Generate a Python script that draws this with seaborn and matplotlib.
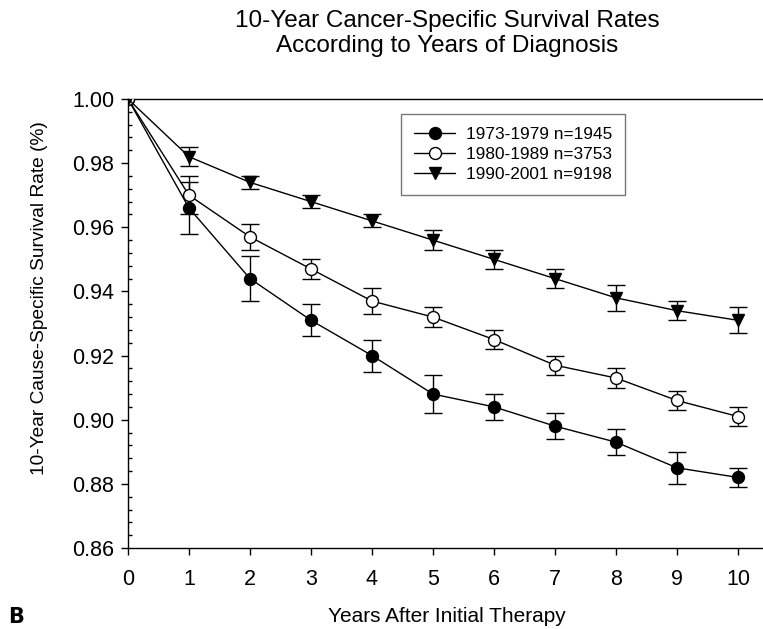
import matplotlib
matplotlib.use("Agg")
import matplotlib.pyplot as plt
import seaborn as sns
import numpy as np
import pandas as pd
from matplotlib.ticker import AutoMinorLocator, FormatStrFormatter

years = [0, 1, 2, 3, 4, 5, 6, 7, 8, 9, 10]
labels = ["1973-1979 n=1945", "1980-1989 n=3753", "1990-2001 n=9198"]
rate_1973 = [1.000, 0.966, 0.944, 0.931, 0.920, 0.908, 0.904, 0.898, 0.893, 0.885, 0.882]
err_1973 = [0.0, 0.008, 0.007, 0.005, 0.005, 0.006, 0.004, 0.004, 0.004, 0.005, 0.003]
rate_1980 = [1.000, 0.970, 0.957, 0.947, 0.937, 0.932, 0.925, 0.917, 0.913, 0.906, 0.901]
err_1980 = [0.0, 0.006, 0.004, 0.003, 0.004, 0.003, 0.003, 0.003, 0.003, 0.003, 0.003]
rate_1990 = [1.000, 0.982, 0.974, 0.968, 0.962, 0.956, 0.950, 0.944, 0.938, 0.934, 0.931]
err_1990 = [0.0, 0.003, 0.002, 0.002, 0.002, 0.003, 0.003, 0.003, 0.004, 0.003, 0.004]
yticks = [0.86, 0.88, 0.90, 0.92, 0.94, 0.96, 0.98, 1.00]

sns.set_style("ticks")
plt.rcParams['font.family'] = ['Liberation Sans', 'DejaVu Sans']
plt.rcParams['text.color'] = 'black'
plt.rcParams['axes.labelcolor'] = 'black'

fig = plt.figure(figsize=(7.63, 6.29), dpi=100)
ax = fig.add_axes([128/763, 1-548/629, 1-128/763, (548-99)/629])

series = [
    (rate_1973, err_1973, labels[0], "o", "black"),
    (rate_1980, err_1980, labels[1], "o", "white"),
    (rate_1990, err_1990, labels[2], "v", "black"),
]
for vals, errs, lab, mk, fc in series:
    ax.errorbar(years[1:], vals[1:], yerr=errs[1:], fmt='none', ecolor='black',
                elinewidth=1.0, capsize=6.5, capthick=1.0, zorder=2)
    sns.lineplot(x=years, y=vals, ax=ax, color='black', linewidth=1.0,
                 marker=mk, markersize=8.6, markerfacecolor=fc,
                 markeredgecolor='black', markeredgewidth=1.0, label=lab, zorder=3)

ax.set_xlim(0, (763-128)/61)
ax.set_ylim(0.86, 1.00)
ax.set_xticks(years)
ax.set_yticks(yticks)
ax.yaxis.set_major_formatter(FormatStrFormatter('%.2f'))
ax.yaxis.set_minor_locator(AutoMinorLocator(5))
ax.tick_params(axis='both', which='major', direction='out', length=5, width=1,
               labelsize=15.5, colors='black')
ax.tick_params(axis='y', which='minor', direction='in', length=3, width=1, colors='black')
ax.tick_params(axis='x', which='major', pad=10)
ax.tick_params(axis='y', which='major', pad=5)
ax.spines['right'].set_visible(False)
for s in ['left', 'bottom', 'top']:
    ax.spines[s].set_color('black')
    ax.spines[s].set_linewidth(1.0)

ax.set_ylabel("")
ax.set_xlabel("")
fig.text(40/763, 1-298/629, "10-Year Cause-Specific Survival Rate (%)", ha='center', va='center',
         rotation=90, fontsize=13.8, color='black')
fig.text(447/763, 1-617/629, "Years After Initial Therapy", ha='center', va='center',
         fontsize=15, color='black')
fig.text(8/763, 1-617/629, "B", ha='left', va='center', fontsize=15, fontweight='bold',
         family=['DejaVu Sans Condensed', 'DejaVu Sans'], color='black')
fig.text(447/763, 1-33.5/629, "10-Year Cancer-Specific Survival Rates\nAccording to Years of Diagnosis",
         ha='center', va='center', fontsize=17.5, linespacing=1.18, color='black')

leg = ax.legend(loc='upper left', bbox_to_anchor=(401/763, 1-114/629),
                bbox_transform=fig.transFigure, fontsize=12.4, frameon=True,
                fancybox=False, edgecolor='#555555', handlelength=2.4,
                borderpad=0.75, labelspacing=0.3, handletextpad=0.6, borderaxespad=0)
leg.get_frame().set_linewidth(1.0)
for t in leg.get_texts():
    t.set_color('black')

fig.savefig("out.png", dpi=100)
